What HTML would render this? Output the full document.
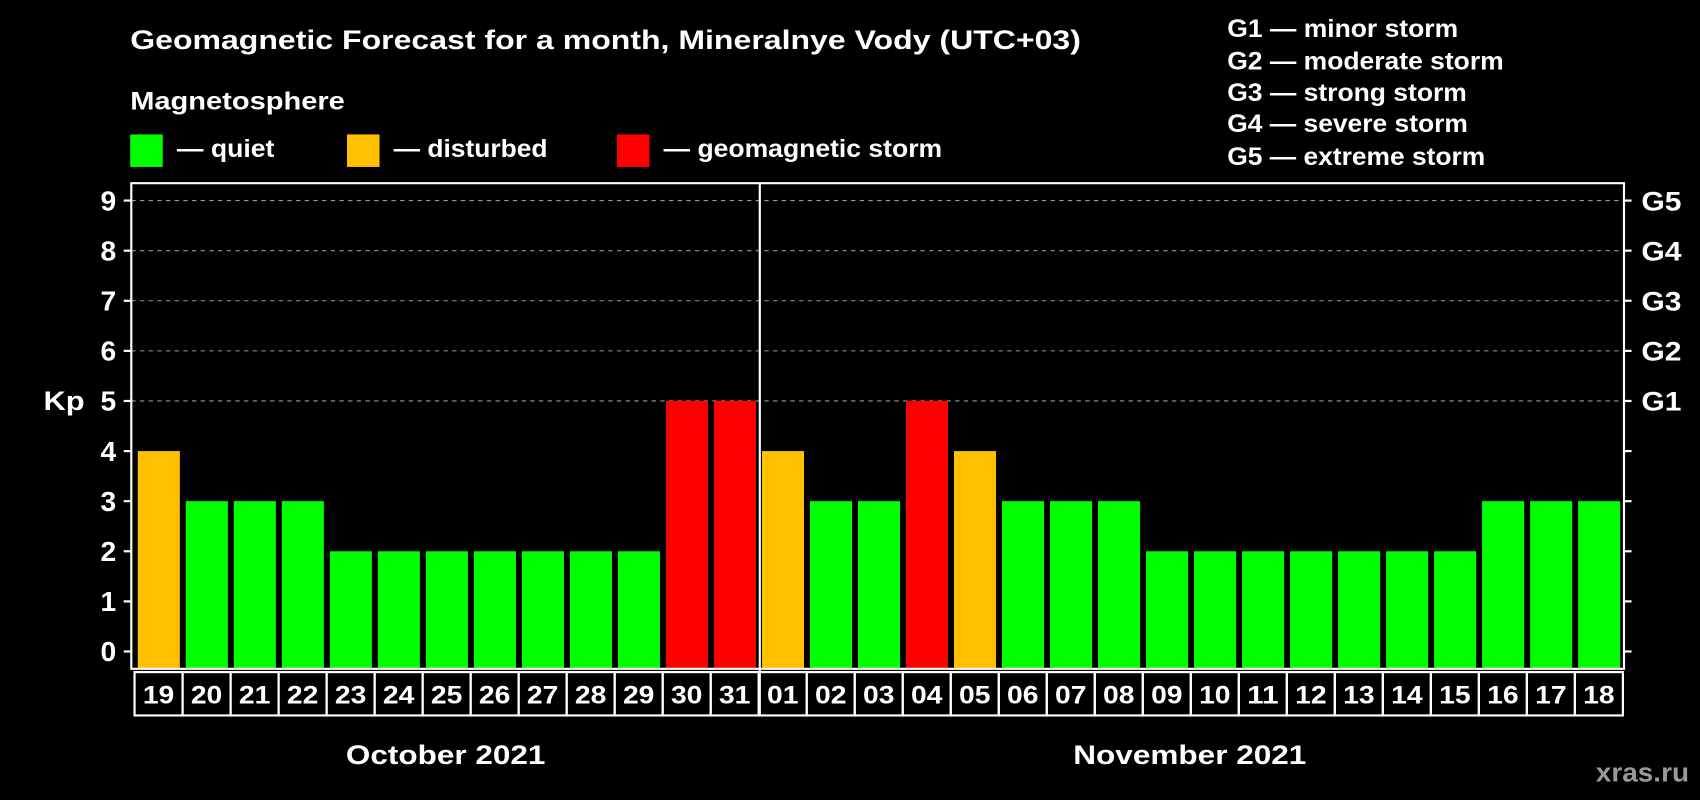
<!DOCTYPE html>
<html><head><meta charset="utf-8"><style>
html,body{margin:0;padding:0;background:#000;}
svg{display:block;font-family:"Liberation Sans",Arial,sans-serif;font-weight:bold;}
</style></head><body>
<svg id="chart" width="1700" height="800" viewBox="0 0 1568 738" xmlns="http://www.w3.org/2000/svg">
<rect width="1568" height="738" fill="#000"/>
<text x="120" y="45" fill="#fff" font-size="25" textLength="877" lengthAdjust="spacingAndGlyphs">Geomagnetic Forecast for a month, Mineralnye Vody (UTC+03)</text>
<text x="120" y="101" fill="#fff" font-size="23" textLength="198" lengthAdjust="spacingAndGlyphs">Magnetosphere</text>
<g>
<rect x="120" y="124" width="30" height="30" fill="#00ff00"/>
<text x="163" y="145" fill="#fff" font-size="23" textLength="90" lengthAdjust="spacingAndGlyphs">— quiet</text>
<rect x="320" y="124" width="30" height="30" fill="#ffc000"/>
<text x="363" y="145" fill="#fff" font-size="23" textLength="142" lengthAdjust="spacingAndGlyphs">— disturbed</text>
<rect x="569" y="124" width="30" height="30" fill="#ff0000"/>
<text x="612" y="145" fill="#fff" font-size="23" textLength="257" lengthAdjust="spacingAndGlyphs">— geomagnetic storm</text>
</g>
<g fill="#fff" font-size="23">
<text x="1132" y="34" textLength="213" lengthAdjust="spacingAndGlyphs">G1 — minor storm</text>
<text x="1132" y="64" textLength="255" lengthAdjust="spacingAndGlyphs">G2 — moderate storm</text>
<text x="1132" y="93" textLength="221" lengthAdjust="spacingAndGlyphs">G3 — strong storm</text>
<text x="1132" y="122" textLength="222" lengthAdjust="spacingAndGlyphs">G4 — severe storm</text>
<text x="1132" y="152" textLength="238" lengthAdjust="spacingAndGlyphs">G5 — extreme storm</text>
</g>
<text x="40" y="378" fill="#fff" font-size="25" textLength="38" lengthAdjust="spacingAndGlyphs">Kp</text>
<g id="grid"></g>
<g id="bars"></g>
<g id="axes"></g>
<text x="319" y="705" fill="#fff" font-size="25" textLength="184" lengthAdjust="spacingAndGlyphs">October 2021</text>
<text x="990" y="705" fill="#fff" font-size="25" textLength="215" lengthAdjust="spacingAndGlyphs">November 2021</text>
<text x="1472" y="721" fill="#999" font-size="25" textLength="86" lengthAdjust="spacingAndGlyphs">xras.ru</text>
</svg>
<script>
const days=["19","20","21","22","23","24","25","26","27","28","29","30","31","01","02","03","04","05","06","07","08","09","10","11","12","13","14","15","16","17","18"];
const kpValues=[4,3,3,3,2,2,2,2,2,2,2,5,5,4,3,3,5,4,3,3,3,2,2,2,2,2,2,2,3,3,3];
const yTicks=[0,1,2,3,4,5,6,7,8,9];
const gLabels=["G1","G2","G3","G4","G5"];
const NS="http://www.w3.org/2000/svg";
const L=121,R=1498,T=169,B=617,X0=124,X1=1497;
const pitch=(X1-X0)/days.length;
function y(v){return 601-v*46.22;}
function x(i){return X0+i*pitch;}
function mk(tag,attrs,parent,text){const e=document.createElementNS(NS,tag);for(const k in attrs)e.setAttribute(k,attrs[k]);if(text!==undefined)e.textContent=text;parent.appendChild(e);return e;}
function color(v){return v>=5?"#ff0000":v>=4?"#ffc000":"#00ff00";}
const grid=document.getElementById('grid'),bars=document.getElementById('bars'),axes=document.getElementById('axes');
yTicks.forEach(v=>{
  if(v>=5){const g=mk('line',{x1:L,x2:R,y1:y(v),y2:y(v),stroke:'#999','stroke-dasharray':'4 4','stroke-width':1},grid);
  
  }
  const t=mk('line',{x1:L-7,x2:L,y1:y(v),y2:y(v),stroke:'#fff','stroke-width':2},axes);
  
  
  const t2=mk('line',{x1:R,x2:R+7,y1:y(v),y2:y(v),stroke:'#fff','stroke-width':2},axes);
  
  
  const lb=mk('text',{x:L-14,y:y(v)+9,fill:'#fff','font-size':26,'text-anchor':'end'},axes,String(v));
  
  
});
gLabels.forEach((g,i)=>{
  const t=mk('text',{x:R+16,y:y(i+5)+9,fill:'#fff','font-size':25,textLength:37,lengthAdjust:'spacingAndGlyphs'},axes,g);
  
  
});
kpValues.forEach((v,i)=>{
  const r=mk('rect',{x:x(i)+3,y:y(v),width:pitch-5.5,height:B-y(v),fill:color(v)},bars);
  
  
  const c=mk('rect',{x:x(i),y:620,width:pitch,height:40,fill:'none',stroke:'#fff','stroke-width':2},axes);
  
  
  const t=mk('text',{x:x(i)+pitch/2,y:649,fill:'#fff','font-size':23,'text-anchor':'middle',textLength:29,lengthAdjust:'spacingAndGlyphs'},axes,days[i]);
  
  
});
const fr=mk('path',{d:`M${L} ${T}H${R}V${B}H${L}Z`,fill:'none',stroke:'#fff','stroke-width':2},axes);


const sep=mk('line',{x1:x(13)+1,x2:x(13)+1,y1:T,y2:660,stroke:'#fff','stroke-width':2},axes);


</script>
</body></html>
